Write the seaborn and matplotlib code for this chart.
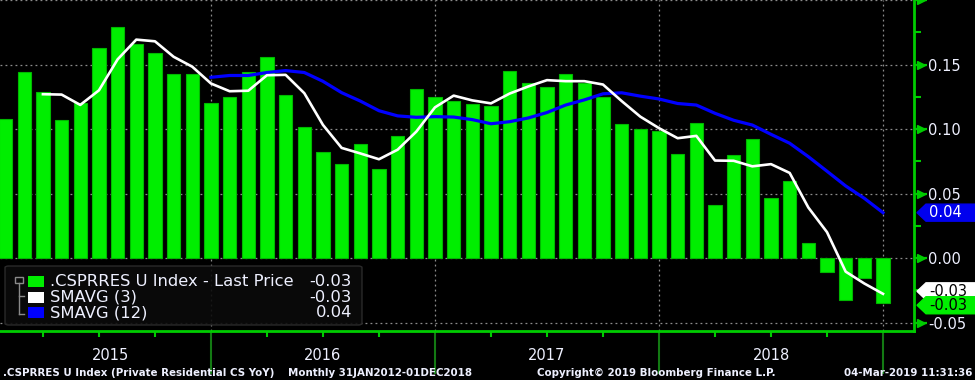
import numpy as np
import pandas as pd
import matplotlib
matplotlib.use("Agg")
import matplotlib.pyplot as plt
import matplotlib.transforms as mtransforms
from matplotlib.patches import Polygon, FancyBboxPatch, Rectangle
from matplotlib.lines import Line2D
import seaborn as sns

# ---------------- data ----------------
years = [2015, 2016, 2017, 2018]
month_abbr = ["Jan", "Feb", "Mar", "Apr", "May", "Jun",
              "Jul", "Aug", "Sep", "Oct", "Nov", "Dec"]
months = [f"{m} {y}" for y in years for m in month_abbr]

# .CSPRRES U Index (Private Residential CS YoY), monthly
yoy = [0.108, 0.144, 0.129, 0.107, 0.120, 0.163, 0.179, 0.166, 0.159, 0.143, 0.143, 0.120,
       0.125, 0.144, 0.156, 0.126, 0.1015, 0.082, 0.0726, 0.0886, 0.0687, 0.0946, 0.1307, 0.125,
       0.122, 0.1196, 0.118, 0.145, 0.136, 0.1328, 0.1426, 0.136, 0.125, 0.104, 0.0997, 0.0984,
       0.0806, 0.105, 0.0413, 0.0798, 0.0922, 0.0465, 0.0594, 0.0116, -0.0106, -0.0326, -0.0158, -0.0346]

# SMAVG (3): Mar 2015 .. Dec 2018
sma3 = [0.127, 0.1267, 0.1187, 0.130, 0.154, 0.1693, 0.168, 0.156, 0.1483, 0.1353,
        0.1293, 0.1297, 0.1417, 0.142, 0.1278, 0.1032, 0.0854, 0.0811, 0.0766, 0.084, 0.098, 0.1168,
        0.1259, 0.1222, 0.1199, 0.1275, 0.133, 0.1379, 0.1371, 0.1371, 0.1345, 0.1217, 0.1096, 0.1007,
        0.0929, 0.0947, 0.0756, 0.0754, 0.0711, 0.0728, 0.066, 0.0392, 0.0201, -0.0105, -0.0197, -0.0277]

# SMAVG (12): Dec 2015 .. Dec 2018
sma12 = [0.1401,
         0.1415, 0.1415, 0.1438, 0.1453, 0.1438, 0.1370, 0.1282, 0.1217, 0.1142, 0.1102, 0.1091, 0.1096,
         0.1093, 0.1073, 0.1041, 0.1057, 0.1086, 0.1128, 0.1186, 0.1226, 0.1273, 0.1281, 0.1255, 0.1233,
         0.1198, 0.1186, 0.1122, 0.1068, 0.1031, 0.0959, 0.0890, 0.0786, 0.0673, 0.0559, 0.0463, 0.0352]

legend_labels = [".CSPRRES U Index - Last Price", "SMAVG (3)", "SMAVG (12)"]
legend_values = ["-0.03", "-0.03", "0.04"]
ytick_vals = [-0.05, 0.0, 0.05, 0.10, 0.15, 0.20]
ytick_labels = ["-0.05", "0.00", "0.05", "0.10", "0.15", ""]
ytick_minor = [-0.025, 0.025, 0.075, 0.125, 0.175]
footer_left = ".CSPRRES U Index (Private Residential CS YoY)"
footer_range = "Monthly 31JAN2012-01DEC2018"
footer_copy = "Copyright\u00a9 2019 Bloomberg Finance L.P."
footer_time = "04-Mar-2019 11:31:36"

# ---------------- style ----------------
GREEN = "#00ee00"
GREEN_EDGE = "#00b800"
AXIS_GREEN = "#00cc00"
DARK_TICK = "#137a13"
TEXT = "#eef0ff"
GRID = "#8c8c8c"

plt.rcParams["font.family"] = ["DejaVu Sans"]

W, H = 975, 380
fig = plt.figure(figsize=(W / 100, H / 100), dpi=100, facecolor="black")
ax = fig.add_axes([0, 49 / H, 914 / W, 331 / H])
ax.set_facecolor("black")

df = pd.DataFrame({"month": months, "yoy": yoy})
idx = np.arange(len(months))

sns.barplot(data=df, x="month", y="yoy", order=months, color=GREEN, saturation=1,
            width=0.72, edgecolor=GREEN_EDGE, linewidth=0.8, ax=ax, zorder=3)

sns.lineplot(x=idx[len(months) - len(sma3):], y=sma3, color="white", linewidth=1.9,
             estimator=None, ax=ax, zorder=5)
sns.lineplot(x=idx[len(months) - len(sma12):], y=sma12, color="#0000ff", linewidth=2.3,
             estimator=None, ax=ax, zorder=4)

ax.set_xlim(-0.30, 48.66)
ax.set_ylim(-0.0565, 0.1997)
ax.set_xlabel("")
ax.set_ylabel("")

# grid
year_ends = [months.index(f"Dec {y}") for y in years]
for v in ytick_vals:
    ax.axhline(v, color=GRID, linestyle=(0, (1.5, 2.5)), linewidth=0.9, zorder=2)
for xe in year_ends:
    ax.axvline(xe, color=GRID, linestyle=(0, (1.5, 2.5)), linewidth=0.9, zorder=2)

# spines
for s in ["left", "top"]:
    ax.spines[s].set_visible(False)
for s in ["right", "bottom"]:
    ax.spines[s].set_color(AXIS_GREEN)
    ax.spines[s].set_linewidth(2)

# y axis on right
ax.yaxis.tick_right()
ax.set_yticks(ytick_vals)
ax.set_yticklabels(ytick_labels)
ax.set_yticks(ytick_minor, minor=True)
ax.tick_params(axis="y", which="major", direction="out", length=9, width=1.6,
               color=AXIS_GREEN, labelcolor=TEXT, labelsize=10.5, pad=1)
ax.tick_params(axis="y", which="minor", direction="out", length=5, width=1.5, color=AXIS_GREEN)
ax.tick_params(axis="y", left=False, which="both")
# small triangular flags on major y ticks
flag_tr = mtransforms.blended_transform_factory(ax.transAxes, ax.transData) + \
    mtransforms.ScaledTranslation(7 / 100, 0, fig.dpi_scale_trans)
ax.plot([1.0] * len(ytick_vals), ytick_vals, ls="", marker=">", ms=6, color=AXIS_GREEN,
        transform=flag_tr, clip_on=False, zorder=6)

# x axis
quarter_ticks = [months.index(f"{m} {y}") for y in years for m in ["Mar", "Jun", "Sep"]]
ax.set_xticks(year_ends)
ax.set_xticklabels([""] * len(year_ends))
ax.set_xticks(quarter_ticks, minor=True)
ax.tick_params(axis="x", which="major", direction="out", length=31, width=1.5, color=DARK_TICK)
ax.tick_params(axis="x", which="minor", direction="out", length=4, width=1.5, color=AXIS_GREEN)

# year labels centred in each year span
xt = mtransforms.blended_transform_factory(ax.transData, ax.transAxes)
year_centers = [5.6, 17, 29, 41]
for yr, xc in zip(years, year_centers):
    ax.text(xc, -25 / 331, str(yr), transform=xt, ha="center", va="center",
            color=TEXT, fontsize=10.5)

# footer
fy = 1 - 372.5 / H
fkw = dict(color=TEXT, fontsize=7.4, fontweight="bold", va="center")
fig.text(3 / W, fy, footer_left, ha="left", **fkw)
fig.text(288 / W, fy, footer_range, ha="left", **fkw)
fig.text(537 / W, fy, footer_copy, ha="left", **fkw)
fig.text(972 / W, fy, footer_time, ha="right", **fkw)

# legend (manual)
def px(x, y):
    return (x / W, 1 - y / H)

box = FancyBboxPatch(px(5, 325), 357 / W, 59 / H, boxstyle="round,pad=0,rounding_size=0.004",
                     transform=fig.transFigure, facecolor="#0b0b0b", edgecolor="#2e2e2e",
                     linewidth=1, alpha=0.9)
fig.add_artist(box)
row_y = [281.5, 297, 312.5]
sw_colors = [GREEN, "white", "#0000ff"]
for ry, c, lab, val in zip(row_y, sw_colors, legend_labels, legend_values):
    fig.add_artist(Rectangle(px(28, ry + 5.5), 16 / W, 11 / H, transform=fig.transFigure,
                             facecolor=c, edgecolor="none"))
    fig.text(50 / W, 1 - ry / H, lab, color=TEXT, fontsize=11.8, ha="left", va="center")
    fig.text(352 / W, 1 - ry / H, val, color=TEXT, fontsize=11.8, ha="right", va="center")
# tree icon
tree_c = "#8a8a8a"
fig.add_artist(Rectangle(px(15, 283), 8 / W, 6 / H, transform=fig.transFigure,
                         facecolor="none", edgecolor=tree_c, linewidth=1))
fig.add_artist(Line2D([19 / W, 19 / W], [1 - 283 / H, 1 - 314 / H], transform=fig.transFigure,
                      color=tree_c, linewidth=1))
for ty in [296, 314]:
    fig.add_artist(Line2D([19 / W, 24 / W], [1 - ty / H, 1 - ty / H], transform=fig.transFigure,
                          color=tree_c, linewidth=1))

# last-value tags on the right axis
def tag(value, text, fc, tc, z, shift_px=0.0):
    h = 0.0066
    x0, x1 = 917 / W, 926 / W
    tr = mtransforms.blended_transform_factory(fig.transFigure, ax.transData) + \
        mtransforms.ScaledTranslation(0, shift_px / 100, fig.dpi_scale_trans)
    poly = Polygon([(x0, value), (x1, value + h), (1.0, value + h), (1.0, value - h), (x1, value - h)],
                   closed=True, transform=tr, facecolor=fc, edgecolor=fc, zorder=z)
    fig.add_artist(poly)
    fig.text(929 / W, value, text, transform=tr, color=tc, fontsize=10.5,
             ha="left", va="center", zorder=z + 0.5)

tag(sma3[-1], legend_values[1], "white", "black", 10, shift_px=2.5)
tag(yoy[-1], legend_values[0], GREEN, "black", 12, shift_px=-2.5)
tag(sma12[-1], legend_values[2], "#0000ee", "white", 14)

fig.savefig("out.png", dpi=100, facecolor="black")
